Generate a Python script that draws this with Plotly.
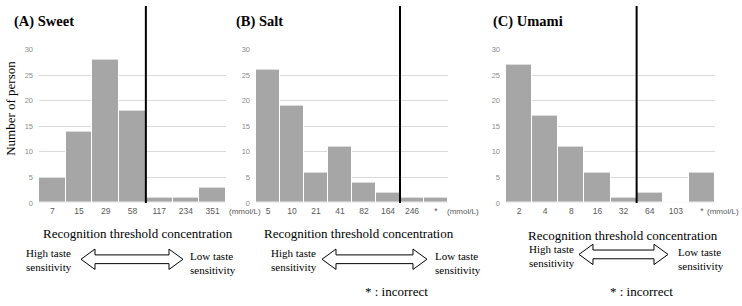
import plotly.graph_objects as go

# ---- data ----
sweet_cats = ["7", "15", "29", "58", "117", "234", "351"]
sweet_vals = [5, 14, 28, 18, 1, 1, 3]
salt_cats = ["5", "10", "21", "41", "82", "164", "246", "*"]
salt_vals = [26, 19, 6, 11, 4, 2, 1, 1]
umami_cats = ["2", "4", "8", "16", "32", "64", "103", "*"]
umami_vals = [27, 17, 11, 6, 1, 2, 0, 6]
cutoffs = [4, 6, 5]  # number of categories left of the black line
titles = ["(A) Sweet", "(B) Salt", "(C) Umami"]
y_ticks = [0, 5, 10, 15, 20, 25, 30]

W, H = 742, 306
def px(x):
    return x / W
def py(y):
    return 1 - y / H

SERIF = "Liberation Serif, Times New Roman, serif"
SANS = "Liberation Sans, Arial, sans-serif"
BAR = "#a6a6a6"
GRID = "#d9d9d9"
TICK = "#595959"

panels = [
    (sweet_cats, sweet_vals, (39, 226), 263),
    (salt_cats, salt_vals, (256, 448), 481),
    (umami_cats, umami_vals, (506, 715), 741),
]
y_dom = [py(205), py(47)]

fig = go.Figure()
layout = dict(
    width=W, height=H, margin=dict(l=0, r=0, t=0, b=0),
    paper_bgcolor="white", plot_bgcolor="white", showlegend=False,
    bargap=0, font=dict(family=SANS, size=8.5, color=TICK),
)
shapes = []
annotations = []
for i, (cats, vals, (x0, x1), unit_r) in enumerate(panels):
    k = "" if i == 0 else str(i + 1)
    fig.add_trace(go.Bar(
        x=cats, y=vals, xaxis="x" + k, yaxis="y" + k,
        marker=dict(color=BAR, line=dict(color="white", width=1)),
        hoverinfo="x+y",
    ))
    layout["xaxis" + k] = dict(
        domain=[px(x0), px(x1)], anchor="y" + k, type="category",
        showgrid=False, zeroline=False, showline=False, ticks="",
        tickfont=dict(family=SANS, size=8.5, color=TICK),
        ticklabelstandoff=2,
        range=[-0.5, len(cats) - 0.5], fixedrange=True,
    )
    layout["yaxis" + k] = dict(
        domain=y_dom, anchor="x" + k, range=[0, 30], tickvals=y_ticks,
        showgrid=True, gridcolor=GRID, gridwidth=1, zeroline=True,
        zerolinecolor=GRID, zerolinewidth=1, showline=False, ticks="",
        tickfont=dict(family=SANS, size=7.5, color="#8c8c8c"),
        ticklabelstandoff=5, fixedrange=True,
    )
    # threshold line
    shapes.append(dict(
        type="line", xref="x" + k, yref="paper",
        x0=cutoffs[i] - 0.5, x1=cutoffs[i] - 0.5, y0=py(205), y1=py(2),
        line=dict(color="black", width=2),
    ))
    # unit label
    annotations.append(dict(
        text="(mmol/L)", xref="paper", yref="paper", x=px(unit_r), y=py(214),
        xanchor="right", yanchor="middle", showarrow=False,
        font=dict(family=SANS, size=8, color=TICK),
    ))

fig.update_layout(**layout)

# panel titles
for t, x in zip(titles, [12, 234, 491]):
    annotations.append(dict(
        text="<b>" + t + "</b>", xref="paper", yref="paper", x=px(x), y=py(18),
        xanchor="left", yanchor="middle", showarrow=False,
        font=dict(family=SERIF, size=14.5, color="black"),
    ))

annotations.append(dict(
    text="Number of person", xref="paper", yref="paper", x=px(11), y=py(108),
    xanchor="center", yanchor="middle", textangle=-90, showarrow=False,
    font=dict(family=SERIF, size=13, color="black"),
))

for cx, cy in [(138, 236), (359, 236), (623, 239)]:
    annotations.append(dict(
        text="Recognition threshold concentration", xref="paper", yref="paper",
        x=px(cx), y=py(cy), xanchor="center", yanchor="middle", showarrow=False,
        font=dict(family=SERIF, size=13, color="black"),
    ))

# sensitivity labels and arrows: (high_x, high_y, arrow_x0, arrow_x1, arrow_y, low_x, low_y)
arrow_specs = [
    (24, 264, 81, 183, 263, 188, 267),
    (269, 264, 322, 427, 263, 433, 267),
    (527, 260, 579, 668, 258, 676, 263),
]
for hx, hy, ax0, ax1, ay, lx, ly in arrow_specs:
    annotations.append(dict(
        text="High taste<br>sensitivity", xref="paper", yref="paper",
        x=px(hx), y=py(hy), xanchor="left", yanchor="middle", align="left",
        showarrow=False, font=dict(family=SERIF, size=11, color="black"),
    ))
    annotations.append(dict(
        text="Low taste<br>sensitivity", xref="paper", yref="paper",
        x=px(lx), y=py(ly), xanchor="left", yanchor="middle", align="left",
        showarrow=False, font=dict(family=SERIF, size=11, color="black"),
    ))
    hl, hh, sh = 14, 10.5, 4.5
    pts = [
        (ax0, ay), (ax0 + hl, ay - hh), (ax0 + hl, ay - sh), (ax1 - hl, ay - sh),
        (ax1 - hl, ay - hh), (ax1, ay), (ax1 - hl, ay + hh), (ax1 - hl, ay + sh),
        (ax0 + hl, ay + sh), (ax0 + hl, ay + hh),
    ]
    path = "M " + " L ".join(f"{px(x):.5f},{py(y):.5f}" for x, y in pts) + " Z"
    shapes.append(dict(
        type="path", xref="paper", yref="paper", path=path,
        line=dict(color="black", width=1), fillcolor="white",
    ))

for cx in [397, 641]:
    annotations.append(dict(
        text="* : incorrect", xref="paper", yref="paper", x=px(cx), y=py(296),
        xanchor="center", yanchor="middle", showarrow=False,
        font=dict(family=SERIF, size=13, color="black"),
    ))

fig.update_layout(shapes=shapes, annotations=annotations)
fig.write_html("out.html")
